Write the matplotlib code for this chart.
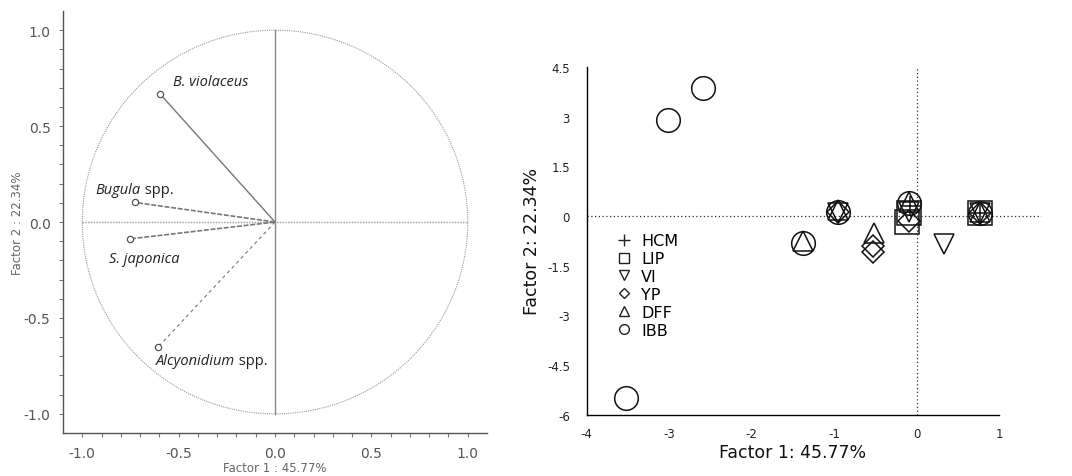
import matplotlib
matplotlib.use("Agg")
import matplotlib.pyplot as plt
from matplotlib.lines import Line2D
from matplotlib.patches import Circle
import numpy as np

plt.rcParams["axes.unicode_minus"] = False

# ---------------- Left panel data (loadings) ----------------
species = ["B. violaceus", "Bugula spp.", "S. japonica", "Alcyonidium spp."]
load_f1 = [-0.597, -0.727, -0.753, -0.608]
load_f2 = [0.668, 0.102, -0.088, -0.653]
left_ticks = [-1.0, -0.5, 0.0, 0.5, 1.0]
left_ticklabels = ["-1.0", "-0.5", "0.0", "0.5", "1.0"]

# ---------------- Right panel data (scores) ----------------
groups = ["HCM", "LIP", "VI", "YP", "DFF", "IBB"]
hcm_x = [0.76, -0.08]
hcm_y = [0.10, 0.30]
lip_x = [0.76, -0.12, -0.10]
lip_y = [0.10, -0.18, 0.08]
vi_x = [0.33, 0.76, -0.95, -0.10]
vi_y = [-0.86, 0.08, 0.08, 0.12]
yp_x = [-0.53, -0.53, -0.10, 0.76, -0.95]
yp_y = [-0.92, -1.10, -0.15, 0.10, 0.12]
dff_x = [-0.52, -1.38, -0.95, -0.09, 0.76]
dff_y = [-0.50, -0.76, 0.18, 0.42, 0.12]
ibb_x = [-2.59, -3.01, -3.52, -1.38, -0.95, -0.09, 0.76]
ibb_y = [3.85, 2.91, -5.49, -0.81, 0.13, 0.38, 0.10]
right_xticks = [-4, -3, -2, -1, 0, 1]
right_yticks = [4.5, 3, 1.5, 0, -1.5, -3, -4.5, -6]
right_yticklabels = ["4.5", "3", "1.5", "0", "-1.5", "-3", "-4.5", "-6"]

fig = plt.figure(figsize=(10.72, 4.77), dpi=100)

# ================= Left panel =================
axL = fig.add_axes([0.0588, 0.0901, 0.3955, 0.8847])
axL.set_xlim(-1.1, 1.1)
axL.set_ylim(-1.1, 1.1)
for s in ["top", "right"]:
    axL.spines[s].set_visible(False)
for s in ["left", "bottom"]:
    axL.spines[s].set_color("#555555")
    axL.spines[s].set_linewidth(1.0)
axL.set_xticks(left_ticks)
axL.set_xticklabels(left_ticklabels)
axL.set_yticks(left_ticks)
axL.set_yticklabels(left_ticklabels)
axL.set_xticks(np.arange(-1.0, 1.01, 0.1), minor=True)
axL.set_yticks(np.arange(-1.0, 1.01, 0.1), minor=True)
axL.tick_params(which="both", direction="out", length=3, width=0.8,
                color="#777777", labelcolor="#555555", labelsize=10, pad=6)
axL.set_xlabel("Factor 1 : 45.77%", color="#666666", fontsize=8.5, labelpad=1)
axL.set_ylabel("Factor 2 : 22.34%", color="#666666", fontsize=8.5, labelpad=0)

axL.add_patch(Circle((0, 0), 1.0, fill=False, ls=(0, (1, 1)), lw=0.8, ec="#999999"))
axL.plot([-1, 1], [0, 0], ls=(0, (1, 1)), lw=1.0, color="#999999")
axL.plot([0, 0], [-1, 1], ls="-", lw=1.0, color="#888888")

styles = ["-", (0, (3, 1)), (0, (3, 1)), (0, (3, 3))]
widths = [1.0, 1.2, 1.2, 0.8]
for x, y, ls, lw in zip(load_f1, load_f2, styles, widths):
    axL.plot([0, x], [0, y], ls=ls, lw=lw, color="#777777")
axL.plot(load_f1, load_f2, ls="none", marker="o", ms=4.5, mfc="white",
         mec="#555555", mew=0.9)

lab_font = "Open Sans"
tkw = dict(fontsize=10.5, color="#222222", family=lab_font, va="center")
axL.text(-0.53, 0.73, "B. violaceus", style="italic", ha="left", **tkw)
tb = axL.text(-0.93, 0.17, "Bugula", style="italic", ha="left", **tkw)
axL.annotate(" spp.", xycoords=tb, xy=(1, 0.5), va="center", ha="left",
             fontsize=10.5, color="#222222", family=lab_font)
axL.text(-0.86, -0.19, "S. japonica", style="italic", ha="left", **tkw)
ta = axL.text(-0.62, -0.72, "Alcyonidium", style="italic", ha="left", **tkw)
axL.annotate(" spp.", xycoords=ta, xy=(1, 0.5), va="center", ha="left",
             fontsize=10.5, color="#222222", family=lab_font)

# ================= Right panel =================
axR = fig.add_axes([0.5473, 0.1285, 0.3849, 0.729])
axR.set_xlim(-4, 1)
axR.set_ylim(-6, 4.5)
for s in ["top", "right"]:
    axR.spines[s].set_visible(False)
for s in ["left", "bottom"]:
    axR.spines[s].set_color("black")
    axR.spines[s].set_linewidth(1.0)
axR.set_xticks(right_xticks)
axR.set_yticks(right_yticks)
axR.set_yticklabels(right_yticklabels)
axR.tick_params(length=0, labelsize=8.5, pad=9, labelcolor="#222222")
axR.tick_params(axis="y", pad=12)
axR.set_xlabel("Factor 1: 45.77%", fontsize=12.5, labelpad=2, color="#111111")
axR.set_ylabel("Factor 2: 22.34%", fontsize=12.5, labelpad=4, color="#111111")

axR.plot([-4, 1.5], [0, 0], ls=(0, (1, 2)), lw=0.9, color="#333333", clip_on=False)
axR.plot([0, 0], [-6, 4.5], ls=(0, (1, 2)), lw=0.9, color="#333333")

mk = dict(ls="none", mfc="none", mec="#111111", mew=1.1)
axR.plot(hcm_x, hcm_y, marker="+", ms=14, **mk)
axR.plot(lip_x, lip_y, marker="s", ms=17, **mk)
axR.plot(vi_x, vi_y, marker="v", ms=15, **mk)
axR.plot(yp_x, yp_y, marker="D", ms=11.5, **mk)
axR.plot(dff_x, dff_y, marker="^", ms=14, **mk)
axR.plot(ibb_x, ibb_y, marker="o", ms=17, **mk)

markers = ["+", "s", "v", "D", "^", "o"]
sizes = [8, 6.5, 6.5, 5, 6.5, 7]
handles = [Line2D([], [], ls="none", marker=m, ms=s, mfc="none", mec="#222222",
                  mew=1.0) for m, s in zip(markers, sizes)]
axR.legend(handles, groups, loc="upper left", bbox_to_anchor=(0.055, 0.54),
           frameon=False, fontsize=11.5, handlelength=1.0, handletextpad=0.6,
           labelspacing=0.18, borderaxespad=0)

fig.savefig("out.png", dpi=100)
